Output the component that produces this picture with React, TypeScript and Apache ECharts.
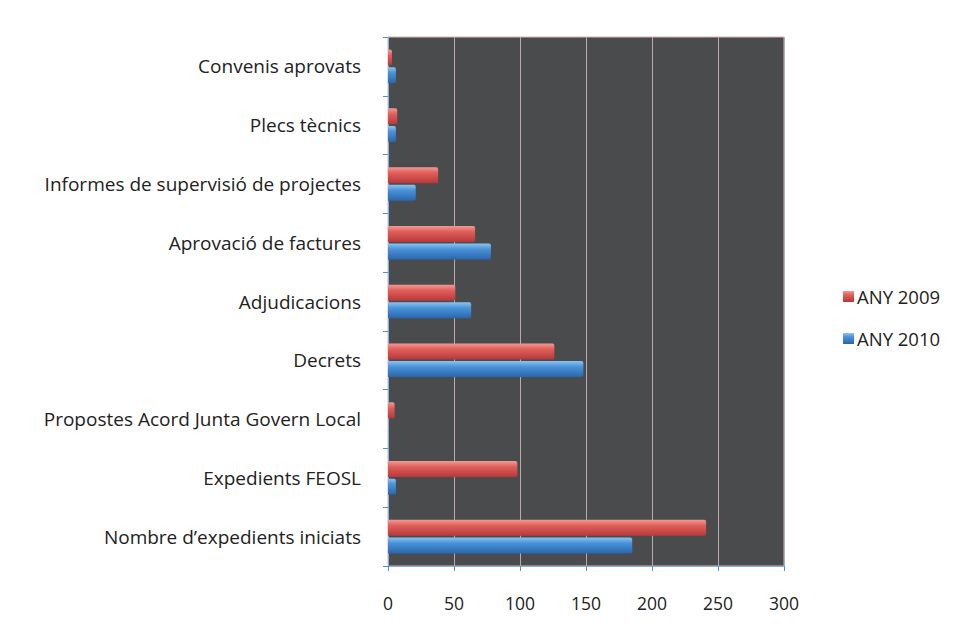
import React, { useEffect, useRef } from "react";
import * as echarts from "echarts";

const categories = [
  "Nombre d’expedients iniciats",
  "Expedients FEOSL",
  "Propostes Acord Junta Govern Local",
  "Decrets",
  "Adjudicacions",
  "Aprovació de factures",
  "Informes de supervisió de projectes",
  "Plecs tècnics",
  "Convenis aprovats",
];
const any2009 = [241, 98, 5, 126, 51, 66, 38, 7, 3];
const any2010 = [185, 6, 0, 148, 63, 78, 21, 6, 6];
const xTicks = [0, 50, 100, 150, 200, 250, 300];

const FONT = "'Open Sans', sans-serif";

function grad(top: string, mid: string, bottom: string) {
  return new echarts.graphic.LinearGradient(0, 0, 0, 1, [
    { offset: 0, color: top },
    { offset: 0.35, color: mid },
    { offset: 1, color: bottom },
  ]);
}

export default function App() {
  const ref = useRef<HTMLDivElement>(null);
  useEffect(() => {
    if (!ref.current) return;
    const chart = echarts.init(ref.current, undefined, { renderer: "svg" });
    chart.setOption({
      animation: false,
      backgroundColor: "#ffffff",
      legend: {
        orient: "vertical",
        left: 830,
        top: 274,
        itemWidth: 11,
        itemHeight: 11,
        itemGap: 23,
        icon: "rect",
        textStyle: { fontFamily: FONT, fontSize: 18.5, color: "#222", padding: [0, 0, 0, -2] },
        data: ["ANY 2009", "ANY 2010"],
      },
      grid: {
        left: 380,
        right: 187,
        top: 29,
        bottom: 57,
        show: true,
        backgroundColor: "#4a4b4d",
        borderColor: "#d9b7b5",
        borderWidth: 1,
      },
      xAxis: {
        type: "value",
        min: 0,
        max: 300,
        interval: 50,
        axisLine: { show: true, lineStyle: { color: "#7fb2e0", width: 1 } },
        axisTick: { show: true, length: 5, lineStyle: { color: "#4f90d0" } },
        axisLabel: {
          fontFamily: FONT,
          fontSize: 17.5,
          color: "#222",
          margin: 28,
          formatter: (v: number) => (xTicks.includes(v) ? String(v) : ""),
        },
        splitLine: { show: true, lineStyle: { color: "#bcaaa8", width: 1 } },
      },
      yAxis: {
        type: "category",
        data: categories,
        axisLine: { show: true, onZero: false, lineStyle: { color: "#7fb2e0", width: 1 } },
        axisTick: { show: true, length: 5, lineStyle: { color: "#4f90d0" } },
        axisLabel: {
          fontFamily: FONT,
          fontSize: 19,
          color: "#222",
          margin: 27,
        },
        splitLine: { show: false },
      },
      series: [
        {
          name: "ANY 2009",
          type: "bar",
          data: any2009,
          barWidth: 16,
          barGap: "10%",
          itemStyle: {
            color: grad("#f29a95", "#e0605b", "#b8383a"),
            borderRadius: [0, 2, 2, 0],
          },
        },
        {
          name: "ANY 2010",
          type: "bar",
          data: any2010,
          barWidth: 16,
          barGap: "10%",
          itemStyle: {
            color: grad("#8cc4f0", "#4a93d8", "#2a66ad"),
            borderRadius: [0, 2, 2, 0],
          },
        },
      ],
    });
    return () => chart.dispose();
  }, []);
  return <div ref={ref} style={{ width: 963, height: 615 }} />;
}
